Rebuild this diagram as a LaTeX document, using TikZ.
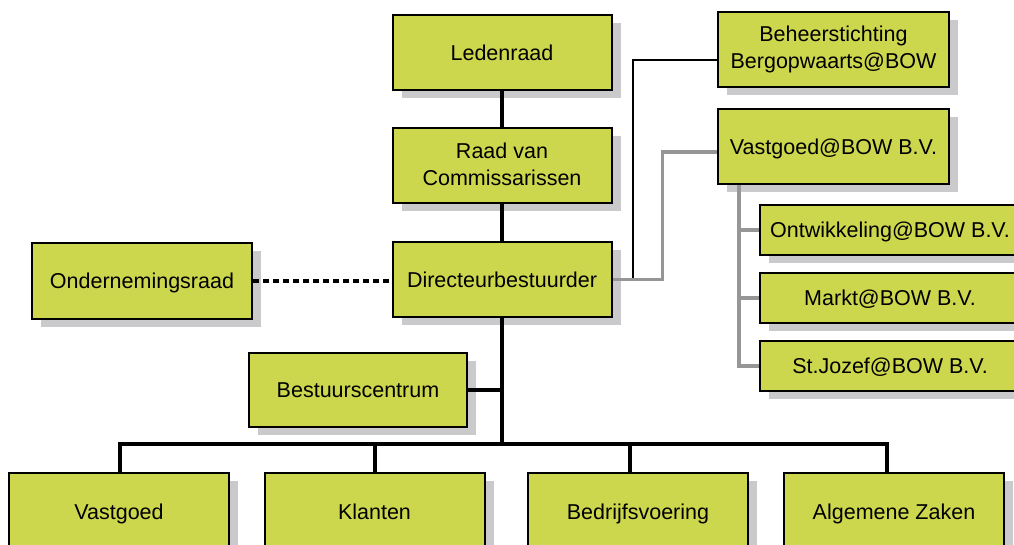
\documentclass[tikz,border=0pt]{standalone}
\usepackage{fontspec}
\setmainfont{Liberation Sans}
\usetikzlibrary{shadows}
\definecolor{boxgreen}{RGB}{205,215,77}
\definecolor{shadowgray}{RGB}{202,202,205}
\definecolor{linegray}{RGB}{150,150,150}
\newcommand\boxstrut{\rule[-4.5pt]{0pt}{24.5pt}}
\tikzset{
	unit/.style = {draw, line width=2pt, fill=boxgreen, align=center,
		minimum width=#1, minimum height=75pt, inner sep=0pt,
		font=\fontsize{21.5}{27}\selectfont,
		execute at begin node=\boxstrut, execute at end node=\boxstrut,
		drop shadow={shadow xshift=9pt, shadow yshift=-8pt,
			fill=shadowgray, opacity=1}},
	unit/.default = 219pt,
	sub/.style = {unit=260pt, minimum height=50pt},
	mainline/.style = {line width=4pt},
	linkline/.style = {line width=2pt},
	subline/.style = {line width=3.2pt, draw=linegray},
	dotline/.style = {line width=4.5pt, dash pattern=on 6pt off 4pt}
}
\begin{document}
\begin{tikzpicture}[x=1pt, y=-1pt]
\clip (0,0) rectangle (1014,545);

\node[unit] (leden) at (502,52.5) {Ledenraad};
\node[unit] (rvc) at (502,166) {Raad van\\Commissarissen};
\node[unit] (dir) at (502,279.5) {Directeurbestuurder};
\node[unit=220pt, minimum height=76pt] (ondraad) at (142,281) {Ondernemingsraad};
\node[unit=218pt, minimum height=74pt] (bc) at (358,390) {Bestuurscentrum};

\node[unit=231pt] (beheer) at (833.5,49.5) {Beheerstichting\\Bergopwaarts@BOW};
\node[unit=231pt] (vgbv) at (833.5,147) {Vastgoed@BOW B.V.};
\node[sub] (ontw) at (890,230) {Ontwikkeling@BOW B.V.};
\node[sub] (markt) at (890,298) {Markt@BOW B.V.};
\node[sub] (jozef) at (890,366) {St.Jozef@BOW B.V.};

\node[unit=220pt, minimum height=78pt] (vg) at (119,512) {Vastgoed};
\node[unit=220pt, minimum height=78pt] (kl) at (374.5,512) {Klanten};
\node[unit=220pt, minimum height=78pt] (bv) at (638,512) {Bedrijfsvoering};
\node[unit=220pt, minimum height=78pt] (az) at (894,512) {Algemene Zaken};

% main line
\coordinate (bus) at (502,444);
\draw[mainline] (leden) -- (rvc);
\draw[mainline] (rvc) -- (dir);
\draw[mainline] (dir) -- (bus);
\draw[mainline] (bc.east) -- (bc.east -| bus);
\foreach \n/\dx in {vg/1, kl/0, bv/-8, az/-7}
	\draw[mainline] ([xshift=\dx pt]\n.north) |- (bus);

\draw[dotline] (ondraad.east) -- (ondraad.east -| dir.west);

% deelnemingen
\draw[linkline] ([yshift=-10.5pt]beheer.west) -| ([xshift=20pt]dir.east);
\draw[subline] (dir.east) -- ++(50,0) |- ([yshift=-5pt]vgbv.west);
\coordinate (vtop) at ([xshift=-94.5pt]vgbv.south);
\foreach \n in {ontw, markt, jozef}
	\draw[subline] (vtop) |- (\n.west);
\end{tikzpicture}
\end{document}
